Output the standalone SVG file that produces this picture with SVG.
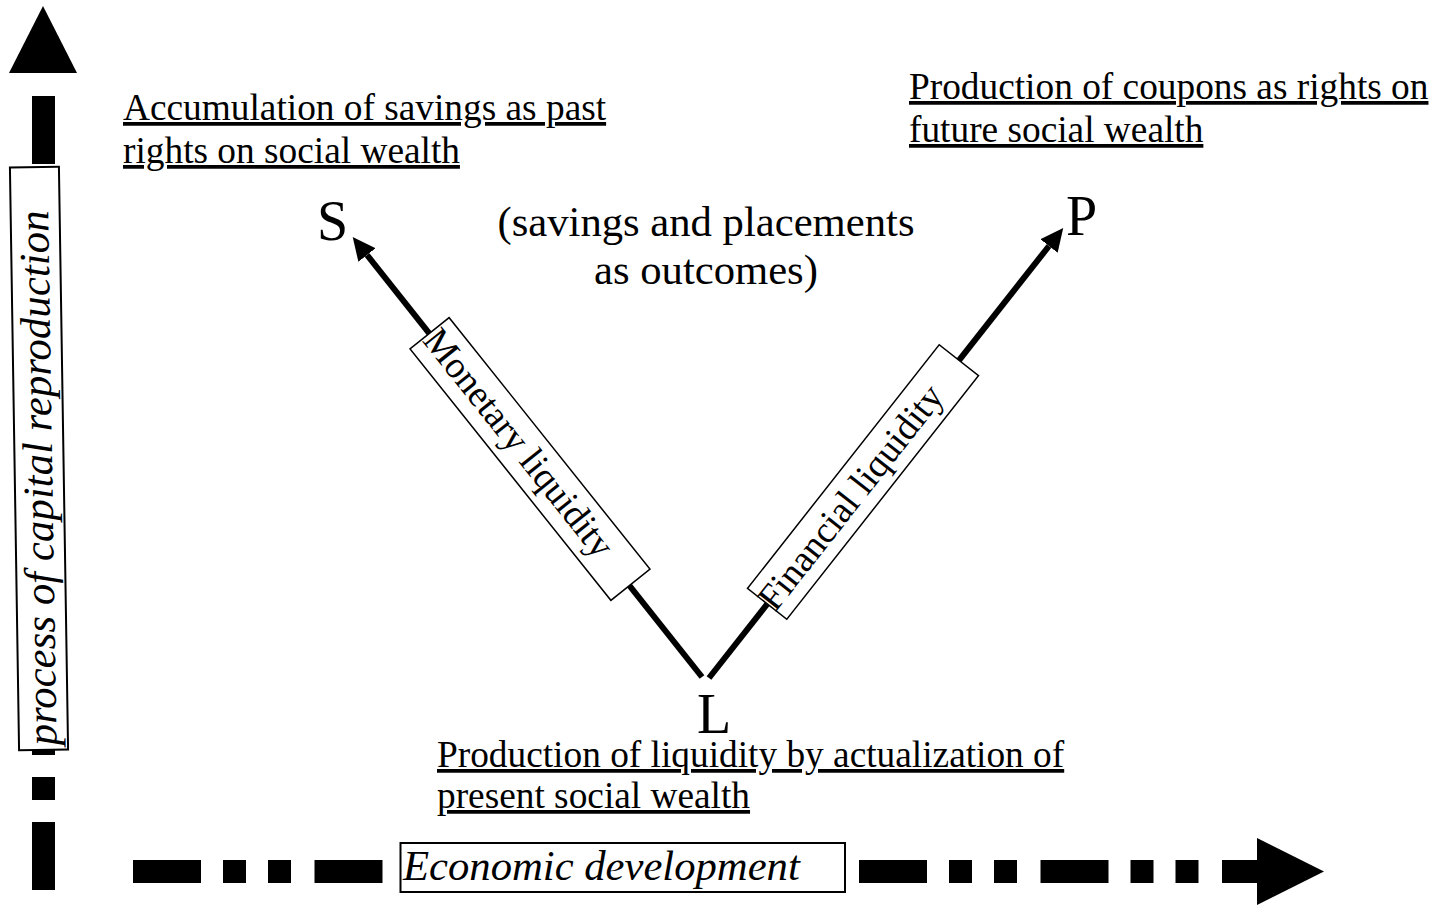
<svg xmlns="http://www.w3.org/2000/svg" width="1433" height="905" viewBox="0 0 1433 905">
<style>
.t{font-family:"Liberation Serif","Times New Roman",serif;fill:#000}
.ann{font-size:37.33px;text-decoration:underline;text-decoration-thickness:2.5px;text-underline-offset:4px}
.big{font-size:42.67px}
.it{font-style:italic}
.ltr{font-size:56px}
.lab{font-size:37.33px}
.box{fill:#fff;stroke:#000;stroke-width:2}
.thin{fill:#fff;stroke:#000;stroke-width:1.5}
.edge{fill:none;stroke:#000;stroke-width:6}
.axis{fill:none;stroke:#000;stroke-width:23;stroke-dasharray:68 22 23 22 23 23.5}
</style>
<defs>
<marker id="ah" markerUnits="userSpaceOnUse" markerWidth="24" markerHeight="24" viewBox="0 -12 24 24" refX="0" refY="0" orient="auto">
<path d="M0,-11 L23,0 L0,11 Z" fill="#000"/>
</marker>
</defs>

<g id="connectors">
<path class="axis" d="M43.5,890 L43.5,96"/>
<polygon points="43,6 77,73 9,73" fill="#000"/>
<path class="axis" d="M133,871.5 L1260,871.5"/>
<polygon points="1257,838 1324,871.5 1257,905" fill="#000"/>
<line class="edge" x1="702" y1="677" x2="367" y2="255" marker-end="url(#ah)"/>
<line class="edge" x1="709" y1="678" x2="1049" y2="246" marker-end="url(#ah)"/>
</g>

<g id="axis-y-label" transform="translate(39,458.5) rotate(-0.9)">
<rect class="box" x="-24.5" y="-291.5" width="49" height="583"/>
<text class="t big it" transform="rotate(-90)" x="-287" y="13" textLength="535" lengthAdjust="spacingAndGlyphs">process of capital reproduction</text>
</g>

<g id="axis-x-label">
<rect class="box" x="400.5" y="843" width="444.5" height="49"/>
<text class="t big it" x="403" y="880">Economic development</text>
</g>

<g id="monetary" transform="translate(530,459) rotate(51.4)">
<rect class="thin" x="-161" y="-25" width="322" height="50"/>
<text class="t lab" x="-160" y="11">Monetary liquidity</text>
</g>

<g id="financial" transform="translate(863,482) rotate(-51.8)">
<rect class="thin" x="-155" y="-25" width="310" height="50"/>
<text class="t lab" x="-157" y="12">Financial liquidity</text>
</g>

<g id="node-S">
<text class="t ltr" x="317" y="240">S</text>
<text class="t ann" x="123" y="120">Accumulation of savings as past</text>
<text class="t ann" x="123" y="163">rights on social wealth</text>
</g>

<g id="node-P">
<text class="t ltr" x="1066" y="235">P</text>
<text class="t ann" x="909" y="99">Production of coupons as rights on</text>
<text class="t ann" x="909" y="142">future social wealth</text>
</g>

<g id="node-L">
<text class="t ltr" x="697" y="733">L</text>
<text class="t ann" x="437" y="767">Production of liquidity by actualization of</text>
<text class="t ann" x="437" y="808">present social wealth</text>
</g>

<g id="note">
<text class="t big" x="706" y="236" text-anchor="middle">(savings and placements</text>
<text class="t big" x="706" y="284" text-anchor="middle">as outcomes)</text>
</g>
</svg>
